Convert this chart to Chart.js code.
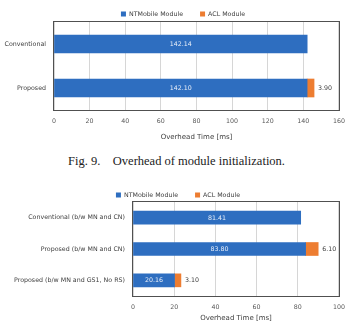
<!DOCTYPE html>
<html>
<head>
<meta charset="utf-8">
<script src="https://cdn.jsdelivr.net/npm/chart.js@4"></script>
<style>
  body { margin: 0; background: #fff; width: 353px; height: 328px; overflow: hidden; position: relative; }
  .box { position: absolute; left: 0; width: 353px; }
  #box1 { top: 0; height: 145px; }
  #box2 { top: 185px; height: 143px; }
  #caption {
    position: absolute; top: 154px; left: 0; width: 353px; text-align: center;
    font-family: "Liberation Serif", serif; font-size: 12.5px; color: #222; white-space: pre;
  }
</style>
</head>
<body>
<div class="box" id="box1"><canvas id="initChart"></canvas></div>
<div id="caption">Fig. 9.    Overhead of module initialization.</div>
<div class="box" id="box2"><canvas id="routeChart"></canvas></div>
<script>
// Series names
const seriesNames = ["NTMobile Module", "ACL Module"];

// Top chart: module initialization
const initCategories = ["Conventional", "Proposed"];
const initNtmobile = [142.14, 142.10];
const initAcl = [null, 3.90];
const initMax = 160;

// Bottom chart
const routeCategories = [
  "Conventional (b/w MN and CN)",
  "Proposed (b/w MN and CN)",
  "Proposed (b/w MN and GS1, No RS)",
];
const routeNtmobile = [81.41, 83.80, 20.16];
const routeAcl = [null, 6.10, 3.10];
const routeMax = 100;

const BLUE = "#2e6ec0";
const ORANGE = "#ed7d31";
const FONT = "'DejaVu Sans', sans-serif";

// value labels: white inside blue bar, grey after the orange bar
const barLabels = {
  id: "barLabels",
  afterDatasetsDraw(chart) {
    const ctx = chart.ctx;
    ctx.save();
    ctx.font = "6.3px " + FONT;
    ctx.textBaseline = "middle";
    chart.data.datasets.forEach((ds, i) => {
      const meta = chart.getDatasetMeta(i);
      meta.data.forEach((bar, j) => {
        const v = ds.data[j];
        if (v == null) return;
        if (i === 0) {
          ctx.fillStyle = "#e8eef8";
          ctx.textAlign = "center";
          ctx.fillText(v.toFixed(2), (bar.x + bar.base) / 2, bar.y + 0.5);
        } else {
          ctx.fillStyle = "#404040";
          ctx.textAlign = "left";
          ctx.fillText(v.toFixed(2), bar.x + 4, bar.y + 0.5);
        }
      });
    });
    ctx.restore();
  },
};

// box round the plot area + small square legend on top
const frameAndLegend = {
  id: "frameAndLegend",
  afterDraw(chart, args, opts) {
    const ctx = chart.ctx;
    const a = chart.chartArea;
    const l = Math.round(a.left), t = Math.round(a.top);
    const r = Math.round(a.right), b = Math.round(a.bottom);
    ctx.save();
    ctx.fillStyle = "#505050";
    ctx.fillRect(l - 1, t - 1, r - l + 2, 1);
    ctx.fillRect(l - 1, b, r - l + 2, 1);
    ctx.fillRect(l - 1, t - 1, 1, b - t + 2);
    ctx.fillRect(r, t - 1, 1, b - t + 2);

    ctx.font = "6.3px " + FONT;
    ctx.textBaseline = "middle";
    ctx.textAlign = "left";
    const box = 5, gap = 3, spacing = 17;
    const items = chart.data.datasets.map((ds) => ({
      text: ds.label, color: ds.backgroundColor,
      w: box + gap + ctx.measureText(ds.label).width,
    }));
    const total = items.reduce((s, it) => s + it.w, 0) + spacing * (items.length - 1);
    let x = opts.center - total / 2;
    items.forEach((it) => {
      ctx.fillStyle = it.color;
      ctx.fillRect(x, opts.y - box / 2, box, box);
      ctx.fillStyle = "#404040";
      ctx.fillText(it.text, x + box + gap, opts.y + 0.5);
      x += it.w + spacing;
    });
    ctx.restore();
  },
};

function makeChart(id, cats, blue, orange, max, cfg) {
  return new Chart(document.getElementById(id), {
    type: "bar",
    data: {
      labels: cats,
      datasets: [
        { label: seriesNames[0], data: blue, backgroundColor: BLUE, barThickness: cfg.bar },
        { label: seriesNames[1], data: orange, backgroundColor: ORANGE, barThickness: cfg.bar },
      ],
    },
    options: {
      indexAxis: "y",
      responsive: true,
      maintainAspectRatio: false,
      animation: false,
      layout: { padding: { top: cfg.top, right: cfg.right, left: 0, bottom: 0 } },
      scales: {
        x: {
          stacked: true,
          min: 0,
          max: max,
          ticks: { stepSize: 20, color: "#595959", font: { family: FONT, size: 6.3 }, padding: 8 },
          grid: { color: "#d6d6d6", drawTicks: false },
          border: { display: false },
          title: {
            display: true,
            text: "Overhead Time [ms]",
            color: "#404040",
            font: { family: FONT, size: 7 },
            padding: { top: 0, bottom: cfg.titlePad },
          },
          afterFit(scale) { scale.height = cfg.xh; },
        },
        y: {
          stacked: true,
          ticks: { color: "#404040", font: { family: FONT, size: 6.3 }, padding: 8 },
          grid: { display: false, drawTicks: false },
          border: { display: false },
          afterFit(scale) { scale.width = cfg.yw; },
        },
      },
      plugins: {
        legend: { display: false },
        tooltip: { enabled: false },
        frameAndLegend: { center: cfg.legendX, y: cfg.legendY },
      },
    },
    plugins: [barLabels, frameAndLegend],
  });
}

makeChart("initChart", initCategories, initNtmobile, initAcl, initMax, {
  bar: 18, top: 22, right: 10, yw: 54, xh: 35, titlePad: 4, legendX: 183, legendY: 14,
});

makeChart("routeChart", routeCategories, routeNtmobile, routeAcl, routeMax, {
  bar: 13, top: 17, right: 9, yw: 133, xh: 32, titlePad: 6, legendX: 178, legendY: 10,
});
</script>
</body>
</html>
